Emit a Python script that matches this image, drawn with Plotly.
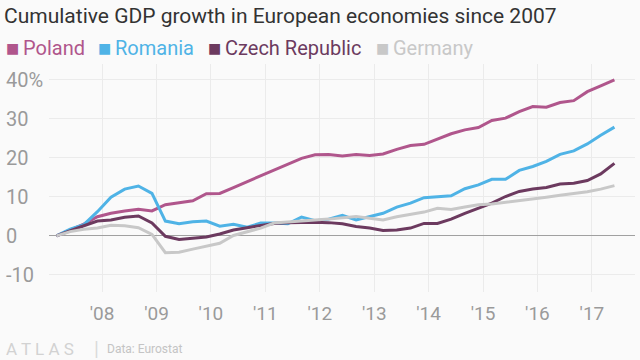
import pandas as pd
import plotly.graph_objects as go

# ---- data ----
quarters = pd.date_range("2007-03-01", "2017-06-01", freq="3MS")

series_names = ["Poland", "Romania", "Czech Republic", "Germany"]
series_colors = ["#b0568c", "#4fb3e6", "#6c3a5f", "#c8c8c8"]

poland = [0, 1.5, 3.0, 4.9, 5.8, 6.4, 6.8, 6.4, 8.0, 8.5, 9.0, 10.8, 10.9, 12.4,
          13.9, 15.4, 16.8, 18.5, 19.9, 20.8, 20.9, 20.5, 20.9, 20.6, 21.0, 22.2,
          23.2, 23.5, 24.9, 26.2, 27.2, 27.8, 29.6, 30.2, 31.9, 33.2, 33.0, 34.2,
          34.7, 37.0, 38.5, 40.0]
romania = [0, 1.7, 2.9, 6.2, 9.9, 12.0, 12.8, 10.9, 3.8, 3.1, 3.6, 3.8, 2.5, 3.0,
           2.2, 3.3, 3.3, 3.1, 4.8, 3.9, 4.3, 5.3, 4.1, 4.9, 5.8, 7.4, 8.4, 9.8,
           10.1, 10.3, 12.1, 13.1, 14.5, 14.5, 16.8, 17.8, 19.1, 20.9, 21.8, 23.6,
           25.8, 27.9]
czech = [0, 1.4, 2.6, 3.8, 4.1, 4.8, 5.1, 3.3, -0.1, -0.9, -0.5, -0.3, 0.5, 1.5,
         2.1, 2.7, 3.2, 3.4, 3.5, 3.5, 3.4, 3.1, 2.4, 2.0, 1.4, 1.5, 2.0, 3.2, 3.2,
         4.3, 5.8, 7.2, 8.4, 10.1, 11.4, 12.0, 12.4, 13.3, 13.5, 14.2, 15.9, 18.6]
germany = [0, 1.1, 1.7, 2.0, 2.7, 2.6, 2.1, 0.4, -4.3, -4.2, -3.4, -2.6, -1.9, 0.1,
           1.1, 2.0, 3.3, 3.6, 3.9, 4.1, 4.3, 4.7, 5.0, 4.5, 4.1, 4.9, 5.6, 6.1,
           7.1, 6.8, 7.4, 8.0, 8.2, 8.6, 9.0, 9.4, 9.9, 10.4, 10.8, 11.3, 12.0, 12.9]
series_values = [poland, romania, czech, germany]

x_tickvals = ["2008-01-01", "2009-01-01", "2010-01-01", "2011-01-01", "2012-01-01",
              "2013-01-01", "2014-01-01", "2015-01-01", "2016-01-01", "2017-01-01"]
x_ticktext = ["'08", "'09", "'10", "'11", "'12", "'13", "'14", "'15", "'16", "'17"]
y_tickvals = [-10, 0, 10, 20, 30, 40]
y_ticktext = ["-10", "0", "10", "20", "30", "40%"]

title_text = "Cumulative GDP growth in European economies since 2007"
brand_text = "A T L A S"
source_text = "Data: Eurostat"

# ---- figure ----
W, H = 640, 360
FONT = "Roboto"
ML, MR, MT, MB = 2, 5, 64, 68
PW, PH = W - ML - MR, H - MT - MB

fig = go.Figure()
n = len(series_names)
for i, (name, color, vals) in enumerate(zip(series_names, series_colors, series_values)):
    fig.add_trace(go.Scatter(x=quarters, y=vals, name=name, mode="lines",
                             line=dict(color=color, width=3), showlegend=False,
                             yaxis="y2" if i == n - 1 else "y"))

y_range = [-14.4, 44.1]
fig.update_layout(
    width=W, height=H,
    margin=dict(l=ML, r=MR, t=MT, b=MB),
    paper_bgcolor="#fafafa", plot_bgcolor="#fafafa",
    font=dict(family=FONT, color="#999999"),
    title=dict(text=title_text, x=4 / W, xref="container", xanchor="left",
               y=1 - 16 / H, yref="container", yanchor="middle",
               font=dict(family=FONT, size=21, color="#333333")),
    xaxis=dict(domain=[(49 - ML) / PW, 1], type="date",
               range=["2007-01-10", "2017-10-17"],
               tickvals=x_tickvals, ticktext=x_ticktext,
               showgrid=True, gridcolor="#ebebeb", gridwidth=1,
               ticks="", showline=False, zeroline=False, ticklabelstandoff=8,
               tickfont=dict(family=FONT, size=19, color="#9a9a9a")),
    yaxis=dict(range=y_range, tickvals=y_tickvals, showticklabels=False,
               showgrid=True, gridcolor="#ebebeb", gridwidth=1,
               zeroline=True, zerolinecolor="#a0a0a0", zerolinewidth=1,
               ticks="", showline=False),
    yaxis2=dict(overlaying="y", anchor="free", position=0, side="left",
                range=y_range, tickvals=y_tickvals, ticktext=y_ticktext,
                ticklabelposition="inside", showgrid=False, zeroline=False,
                showline=False, ticks="",
                tickfont=dict(family=FONT, size=20, color="#9a9a9a")),
)


def canvas_annot(text, cx, cy, size, color, family=FONT):
    """Place text at canvas pixel (cx = left edge, cy = vertical middle from top)."""
    fig.add_annotation(text=text, x=(cx - ML) / PW, y=(H - cy - MB) / PH,
                       xref="paper", yref="paper", xanchor="left", yanchor="middle",
                       showarrow=False, font=dict(family=family, size=size, color=color))


# legend drawn as text items
legend_sq_x = [4, 96, 206, 374]
for name, color, lx in zip(series_names, series_colors, legend_sq_x):
    canvas_annot("■", lx, 48, 14, color, family="DejaVu Sans")
    canvas_annot(name, lx + 17, 48, 20, color)

canvas_annot(brand_text, 4, 349, 17, "#d2d2d2")
canvas_annot("|", 92, 349, 20, "#dadada")
canvas_annot(source_text, 105, 349, 12, "#c4c4c4")

fig.write_html("out.html", config={"displayModeBar": False},
               post_script="document.body.style.margin='0';")
